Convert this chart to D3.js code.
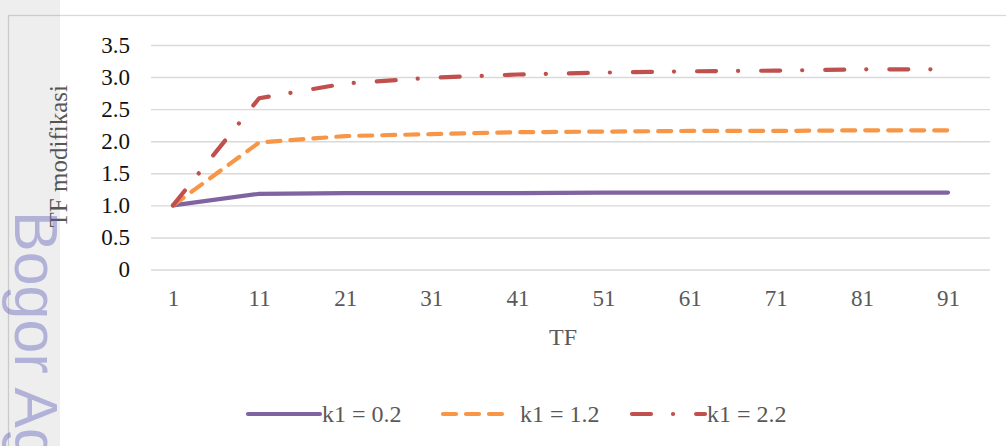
<!DOCTYPE html>
<html>
<head>
<meta charset="utf-8">
<script src="https://cdn.jsdelivr.net/npm/d3@7"></script>
<style>
  html, body { margin: 0; padding: 0; background: #fff; }
  svg { display: block; }
  text { font-family: "Liberation Serif", "Times New Roman", serif; }
</style>
</head>
<body>
<svg id="chart" width="1006" height="446"></svg>
<script>
// Term-frequency values on the horizontal axis
const categories = ["1", "11", "21", "31", "41", "51", "61", "71", "81", "91"];

// Modified TF for each k1 setting
const k1_02 = [1.00, 1.18, 1.19, 1.19, 1.19, 1.20, 1.20, 1.20, 1.20, 1.20];
const k1_12 = [1.00, 1.98, 2.08, 2.11, 2.14, 2.15, 2.16, 2.16, 2.17, 2.17];
const k1_22 = [1.00, 2.67, 2.90, 2.99, 3.04, 3.07, 3.09, 3.10, 3.12, 3.12];

const seriesNames = ["k1 = 0.2", "k1 = 1.2", "k1 = 2.2"];
const yTicks = [0, 0.5, 1.0, 1.5, 2.0, 2.5, 3.0, 3.5];
const yTickLabels = ["0", "0.5", "1.0", "1.5", "2.0", "2.5", "3.0", "3.5"];

const series = [
  { name: seriesNames[0], values: k1_02, color: "#8064A2", dash: null },
  { name: seriesNames[1], values: k1_12, color: "#F79646", dash: "13,10" },
  { name: seriesNames[2], values: k1_22, color: "#C0504D", dash: "19,22,0.1,23" }
];

const svg = d3.select("#chart");

// Plot geometry
const plotLeft = 151, plotRight = 990, plotTop = 45, plotBottom = 269.5;

const x = d3.scalePoint().domain(categories).range([173, 948]);
const y = d3.scaleLinear().domain([0, 3.5]).range([plotBottom, plotTop]);

// Chart frame
svg.append("rect")
  .attr("x", 8.5).attr("y", 15.5)
  .attr("width", 1010).attr("height", 440)
  .attr("fill", "#fff")
  .attr("stroke", "#d9d9d9").attr("stroke-width", 1.3);

// Value axis with gridlines
const yAxis = svg.append("g")
  .attr("transform", `translate(${plotLeft},0)`)
  .call(d3.axisLeft(y)
    .tickValues(yTicks)
    .tickFormat((d, i) => yTickLabels[i])
    .tickSize(-(plotRight - plotLeft))
    .tickPadding(21));
yAxis.select(".domain").remove();
yAxis.selectAll(".tick line").attr("stroke", "#d9d9d9").attr("stroke-width", 1.4);
yAxis.selectAll(".tick text")
  .attr("fill", "#111")
  .attr("font-size", 23);

// Category axis
const xAxis = svg.append("g")
  .attr("transform", `translate(0,${plotBottom})`)
  .call(d3.axisBottom(x).tickSize(0).tickPadding(20));
xAxis.select(".domain").remove();
xAxis.selectAll(".tick text")
  .attr("fill", "#595959")
  .attr("font-size", 23);

// Axis titles
svg.append("text")
  .attr("x", 563).attr("y", 345)
  .attr("text-anchor", "middle")
  .attr("font-size", 24)
  .attr("fill", "#595959")
  .text("TF");

svg.append("text")
  .attr("transform", `translate(67,${(plotTop + plotBottom) / 2 - 1}) rotate(-90)`)
  .attr("text-anchor", "middle")
  .attr("font-size", 25)
  .attr("fill", "#595959")
  .text("TF modifikasi");

// Series lines
const line = d3.line()
  .x((d, i) => x(categories[i]))
  .y(d => y(d));

svg.append("g").selectAll("path")
  .data(series)
  .join("path")
  .attr("d", d => line(d.values))
  .attr("fill", "none")
  .attr("stroke", d => d.color)
  .attr("stroke-width", 4.2)
  .attr("stroke-linecap", "round")
  .attr("stroke-linejoin", "round")
  .attr("stroke-dasharray", d => d.dash);

// Legend
const legendItems = [
  { x0: 248, x1: 320, tx: 322 },
  { x0: 443, x1: 505, tx: 520 },
  { x0: 632, x1: 705, tx: 707 }
];
const legendY = 414;
const legend = svg.append("g");
series.forEach((s, i) => {
  const p = legendItems[i];
  legend.append("line")
    .attr("x1", p.x0).attr("x2", p.x1)
    .attr("y1", legendY).attr("y2", legendY)
    .attr("stroke", s.color)
    .attr("stroke-width", 4.2)
    .attr("stroke-linecap", "round")
    .attr("stroke-dasharray", s.dash);
  legend.append("text")
    .attr("x", p.tx).attr("y", legendY)
    .attr("dy", "0.33em")
    .attr("font-size", 24)
    .attr("fill", "#595959")
    .text(s.name);
});

// Left margin band with vertical watermark
svg.append("defs").append("clipPath").attr("id", "bandClip")
  .append("rect").attr("x", 0).attr("y", 0).attr("width", 60).attr("height", 446);
const band = svg.append("g").attr("clip-path", "url(#bandClip)");
band.append("rect")
  .attr("x", 0).attr("y", 0).attr("width", 60).attr("height", 446)
  .attr("fill", "rgba(0,0,0,0.065)");
band.append("text")
  .attr("transform", "translate(15,211) rotate(90)")
  .style("font-family", "'Liberation Sans', Arial, sans-serif")
  .attr("font-size", 61)
  .attr("fill", "rgba(95,95,185,0.42)")
  .text("Bogor Ag");
</script>
</body>
</html>
